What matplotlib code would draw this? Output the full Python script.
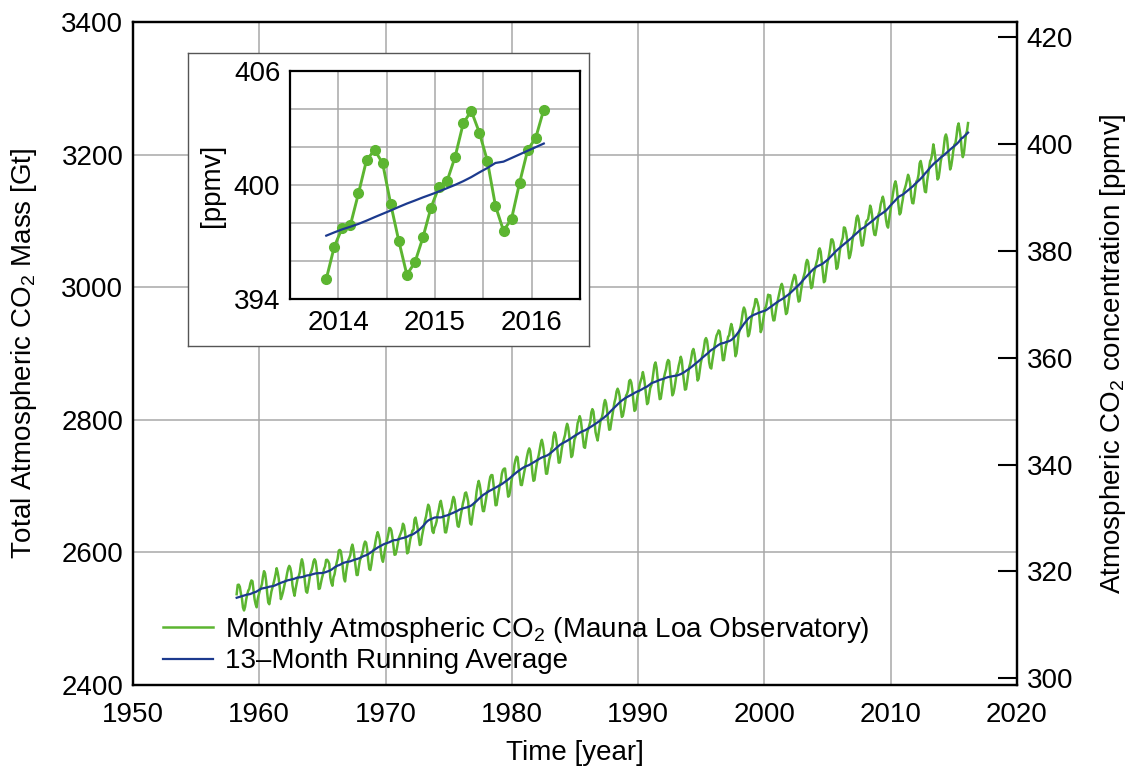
import numpy as np
import pandas as pd
import matplotlib
matplotlib.use("Agg")
import matplotlib.pyplot as plt
from matplotlib.ticker import MultipleLocator

plt.rcParams['font.family'] = ['Liberation Sans', 'DejaVu Sans']
plt.rcParams['font.size'] = 20
plt.rcParams['mathtext.fontset'] = 'custom'
plt.rcParams['mathtext.rm'] = 'Liberation Sans'
plt.rcParams['mathtext.it'] = 'Liberation Sans'

GREEN = '#5cb531'
BLUE = '#1c3a8e'
GRID = '#a8a8a8'

# Monthly mean CO2 at Mauna Loa [ppmv], first value is March 1958
start_year, start_month = 1958, 3
co2_ppmv = [
    315.71, 317.45, 317.50, 317.10, 315.86, 314.93, 313.20, 312.66, 313.33, 314.67,
    315.62, 316.38, 316.71, 317.72, 318.29, 318.15, 316.54, 314.80, 313.84, 313.26, 314.80, 315.58,
    316.43, 316.97, 317.58, 319.02, 320.03, 319.59, 318.18, 315.91, 314.16, 313.83, 315.00, 316.19,
    316.93, 317.70, 318.54, 319.48, 320.58, 319.77, 318.57, 316.79, 314.80, 315.38, 316.10, 317.01,
    317.94, 318.55, 319.68, 320.57, 321.02, 320.62, 319.61, 317.40, 316.25, 315.42, 316.69, 317.70,
    318.74, 319.07, 319.86, 321.38, 322.25, 321.48, 319.74, 317.77, 316.21, 315.99, 317.07, 318.35,
    319.57, 320.01, 320.74, 321.84, 322.26, 321.89, 320.44, 318.70, 316.70, 316.79, 317.79, 318.71,
    319.44, 320.44, 320.89, 322.13, 322.16, 321.87, 321.39, 318.81, 317.81, 317.30, 318.87, 319.42,
    320.62, 321.59, 322.39, 323.87, 324.01, 323.75, 322.39, 320.37, 318.64, 318.10, 319.79, 321.08,
    322.07, 322.50, 323.04, 324.42, 325.00, 324.09, 322.55, 320.92, 319.31, 319.31, 320.72, 321.96,
    322.57, 323.15, 323.89, 325.02, 325.57, 325.36, 324.14, 322.03, 320.41, 320.25, 321.31, 322.84,
    324.00, 324.42, 325.64, 326.66, 327.34, 326.76, 325.88, 323.67, 322.38, 321.78, 322.85, 324.12,
    325.03, 325.99, 326.87, 328.13, 328.07, 327.66, 326.35, 324.69, 323.10, 323.16, 323.98, 325.13,
    326.17, 326.68, 327.18, 327.78, 328.92, 328.57, 327.34, 325.46, 323.36, 323.57, 324.80, 326.01,
    326.77, 327.63, 327.75, 329.72, 330.07, 329.09, 328.05, 326.32, 324.93, 325.06, 326.50, 327.55,
    328.54, 329.56, 330.30, 331.50, 332.48, 332.07, 330.87, 329.31, 327.51, 327.18, 328.16, 328.64,
    329.35, 330.71, 331.48, 332.65, 333.20, 332.16, 331.07, 329.12, 327.32, 327.28, 328.30, 329.58,
    330.73, 331.46, 331.90, 333.17, 333.94, 333.45, 331.97, 329.95, 328.50, 328.34, 329.37, 330.58,
    331.59, 332.75, 333.52, 334.64, 334.77, 334.00, 333.06, 330.68, 328.95, 328.75, 330.15, 331.62,
    332.66, 333.13, 334.95, 336.13, 336.93, 336.17, 334.88, 332.56, 331.29, 331.27, 332.41, 333.60,
    334.95, 335.25, 336.66, 337.69, 338.03, 338.01, 336.41, 334.41, 332.37, 332.41, 333.75, 334.90,
    336.14, 336.69, 338.27, 338.96, 339.21, 339.26, 337.54, 335.75, 333.98, 334.19, 335.31, 336.81,
    337.90, 338.34, 340.01, 340.93, 341.48, 341.33, 339.40, 337.70, 336.19, 336.15, 337.27, 338.32,
    339.29, 340.55, 341.61, 342.53, 343.03, 342.54, 340.78, 338.44, 336.95, 337.08, 338.58, 339.88,
    340.96, 341.73, 342.81, 343.97, 344.63, 343.79, 342.32, 340.09, 338.28, 338.29, 339.60, 340.90,
    341.68, 342.90, 343.33, 345.25, 346.03, 345.63, 344.19, 342.27, 340.35, 340.38, 341.59, 343.05,
    344.10, 344.79, 345.52, 346.84, 347.63, 346.98, 345.53, 343.55, 341.40, 341.67, 343.10, 344.70,
    345.21, 346.16, 347.74, 348.34, 349.06, 348.38, 346.72, 345.02, 343.27, 343.13, 344.49, 345.88,
    346.56, 347.28, 348.01, 349.77, 350.38, 349.93, 348.16, 346.08, 345.22, 344.51, 345.93, 347.22,
    348.52, 348.73, 349.73, 351.31, 352.09, 351.53, 350.11, 348.08, 346.52, 346.59, 347.96, 349.16,
    350.39, 351.64, 352.41, 353.69, 354.21, 353.72, 352.69, 350.40, 348.92, 349.13, 350.20, 351.41,
    352.91, 353.27, 353.96, 355.64, 355.86, 355.37, 353.99, 351.81, 350.05, 350.25, 351.49, 352.85,
    353.80, 355.04, 355.73, 356.32, 357.32, 356.34, 354.84, 353.01, 351.31, 351.62, 353.07, 354.33,
    354.84, 355.73, 357.23, 358.66, 359.13, 358.13, 356.19, 353.85, 352.25, 352.35, 353.81, 355.12,
    356.25, 357.11, 357.86, 359.09, 359.59, 359.33, 357.01, 354.94, 352.96, 353.32, 354.32, 355.57,
    357.00, 357.31, 358.47, 359.27, 360.19, 359.52, 357.33, 355.64, 354.03, 354.12, 355.41, 356.91,
    358.24, 358.92, 359.99, 361.23, 361.65, 360.81, 359.38, 357.46, 355.73, 356.08, 357.53, 358.98,
    359.92, 360.86, 361.83, 363.30, 363.69, 363.19, 361.64, 359.12, 358.17, 357.99, 359.45, 360.68,
    362.07, 363.24, 364.17, 364.57, 365.13, 364.92, 363.55, 361.38, 359.54, 359.58, 360.89, 362.24,
    362.92, 363.93, 364.23, 365.46, 366.33, 365.59, 364.31, 362.25, 360.29, 360.82, 362.49, 364.38,
    365.26, 365.98, 367.24, 368.66, 369.42, 368.99, 367.82, 365.95, 364.02, 364.40, 365.52, 367.13,
    368.18, 369.07, 369.68, 370.99, 370.96, 370.30, 369.45, 366.90, 364.81, 365.37, 366.72, 368.10,
    369.29, 369.54, 370.60, 371.82, 371.58, 371.70, 369.86, 368.13, 367.00, 367.03, 368.37, 369.67,
    370.59, 371.51, 372.43, 373.37, 373.85, 373.21, 371.51, 369.61, 368.18, 368.45, 369.76, 371.24,
    372.53, 373.20, 374.12, 374.87, 375.54, 375.24, 373.85, 371.72, 370.52, 370.67, 372.21, 373.45,
    374.66, 375.35, 376.12, 377.68, 378.34, 377.95, 376.45, 374.33, 373.03, 373.32, 374.92, 376.17,
    377.06, 377.86, 378.52, 380.12, 380.50, 379.86, 377.97, 375.99, 374.15, 374.36, 375.94, 377.38,
    378.36, 379.36, 380.60, 382.16, 382.17, 381.66, 380.24, 378.58, 376.65, 376.88, 378.22, 379.84,
    381.04, 381.86, 382.51, 384.42, 384.34, 383.58, 382.26, 380.46, 378.64, 379.13, 380.17, 381.85,
    382.91, 383.53, 384.65, 386.21, 386.63, 385.97, 384.45, 382.24, 381.01, 381.09, 382.37, 383.74,
    385.44, 385.73, 385.97, 387.16, 388.50, 387.88, 386.38, 384.15, 383.07, 382.98, 384.11, 385.54,
    386.92, 387.41, 388.77, 389.46, 390.18, 389.43, 387.74, 385.91, 384.77, 384.38, 385.99, 387.26,
    388.45, 389.82, 391.08, 392.46, 393.05, 392.21, 390.21, 388.36, 386.85, 387.17, 388.61, 389.67,
    391.19, 391.75, 392.45, 393.37, 394.28, 393.69, 392.59, 390.21, 389.00, 388.93, 390.24, 391.80,
    393.07, 393.35, 394.36, 396.43, 396.87, 395.88, 394.52, 392.54, 391.13, 391.01, 392.95, 394.34,
    395.61, 396.85, 397.26, 398.35, 399.98, 398.87, 397.37, 395.41, 393.39, 393.70, 395.05, 396.76,
    397.76, 397.90, 399.56, 401.31, 401.84, 401.14, 398.99, 397.06, 395.28, 395.92, 397.24, 398.81,
    399.91, 400.21, 401.49, 403.24, 403.90, 402.76, 401.26, 398.90, 397.59, 398.22, 400.12, 401.84,
    402.48, 403.97,
]

# inset shows the last 28 months (Nov 2013 - Feb 2016)
inset_months = 28

left_ticks = [2400, 2600, 2800, 3000, 3200, 3400]
right_ticks = [300, 320, 340, 360, 380, 400, 420]
year_ticks = [1950, 1960, 1970, 1980, 1990, 2000, 2010, 2020]
inset_yticks = [394, 400, 406]
inset_xticks = [2014, 2015, 2016]

co2 = np.asarray(co2_ppmv, dtype=float)
month_idx = np.arange(len(co2)) + (start_month - 1)
t = start_year + (month_idx + 0.5) / 12.0

# 13-month centred running average (half weight on the two end months),
# the half-window at each end follows the local trend of the average
w = np.r_[0.5, np.ones(11), 0.5] / 12.0
core = np.convolve(co2, w, mode='valid')
run = np.full(len(co2), np.nan)
run[6:-6] = core
p = np.polyfit(t[6:18], run[6:18], 1)
run[:6] = np.polyval(p, t[:6])
p = np.polyfit(t[-18:-6], run[-18:-6], 1)
run[-6:] = np.polyval(p, t[-6:])

fig = plt.figure(figsize=(11.32, 7.67), dpi=100)
fig.patch.set_facecolor('white')

ax = fig.add_axes([0.1175, 0.1069, 0.7809, 0.8644])
ax.set_xlim(1950, 2020)
ax.set_ylim(2400, 3400)
ax.set_xticks(year_ticks)
ax.set_yticks(left_ticks)
ax.grid(True, color=GRID, linewidth=1.1)
ax.set_axisbelow(True)
ax.tick_params(axis='both', length=0)
ax.tick_params(axis='y', pad=7)
ax.tick_params(axis='x', pad=12)
ax.set_xlabel('Time [year]', labelpad=9)
ax.set_ylabel('Total Atmospheric CO$_2$ Mass [Gt]', labelpad=16)
for s in ax.spines.values():
    s.set_linewidth(1.6)

ax2 = ax.twinx()
ax2.set_ylim(298.7, 422.9)
ax2.set_yticks(right_ticks)
ax2.tick_params(axis='y', direction='in', length=14, width=1.5, pad=7)
ax2.set_ylabel('Atmospheric CO$_2$ concentration [ppmv]', labelpad=18)
for s in ax2.spines.values():
    s.set_linewidth(1.6)

ax2.plot(t, co2, color=GREEN, linewidth=1.8,
         label='Monthly Atmospheric CO$_2$ (Mauna Loa Observatory)')
ax2.plot(t, run, color=BLUE, linewidth=1.6, label='13\u2013Month Running Average')
ax2.legend(loc='lower left', bbox_to_anchor=(0.034, 0.016), frameon=False,
           borderpad=0, borderaxespad=0, handlelength=1.8, handletextpad=0.43,
           labelspacing=0.12)

# inset: white box with a grey frame, zoomed view of the last two years
box = fig.add_axes([0.1661, 0.5489, 0.3542, 0.3820])
box.set_xticks([])
box.set_yticks([])
box.set_facecolor('white')
for s in box.spines.values():
    s.set_color('#555555')
    s.set_linewidth(1.0)

ins = fig.add_axes([0.2562, 0.6102, 0.2562, 0.2973])
ins.set_xlim(2013.5, 2016.5)
ins.set_ylim(394, 406)
ins.set_xticks(inset_xticks)
ins.set_yticks(inset_yticks)
ins.xaxis.set_minor_locator(MultipleLocator(0.5))
ins.yaxis.set_minor_locator(MultipleLocator(2))
ins.grid(True, which='both', color=GRID, linewidth=1.1)
ins.set_axisbelow(True)
ins.tick_params(axis='both', which='both', length=0)
ins.tick_params(axis='y', pad=7)
ins.tick_params(axis='x', pad=8)
ins.set_ylabel('[ppmv]', labelpad=6)
for s in ins.spines.values():
    s.set_linewidth(1.6)

ins.plot(t[-inset_months:], co2[-inset_months:], color=GREEN, linewidth=2.1,
         marker='o', markersize=7)
ins.plot(t[-inset_months:], run[-inset_months:], color=BLUE, linewidth=1.6)

fig.savefig('out.png', dpi=100)
